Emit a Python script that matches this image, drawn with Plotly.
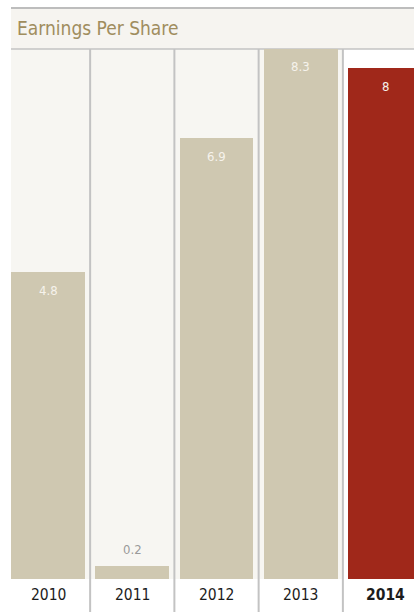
import plotly.graph_objects as go

# Earnings per share by fiscal year
years = ["2010", "2011", "2012", "2013", "2014"]
eps = [4.8, 0.2, 6.9, 8.3, 8.0]
eps_labels = ["4.8", "0.2", "6.9", "8.3", "8"]

W, H = 414, 612
FONT = "Liberation Sans Narrow, DejaVu Sans Condensed, Arial Narrow, sans-serif"

BAR = "#cfc8b1"
HIGHLIGHT = "#a0281a"
PANEL = "#f7f6f2"
RULE = "#c3c3c3"

# pixel geometry of the panel
plot_top, plot_bottom = 49, 579
col_w = 84.25
x0_px = 48  # centre of first column

def px(x):
    return x / W

def py(y):
    return 1 - y / H

xr0 = -x0_px / col_w
xr1 = xr0 + W / col_w

colors = [BAR] * (len(years) - 1) + [HIGHLIGHT]

fig = go.Figure()
fig.add_trace(go.Bar(
    x=list(range(len(years))),
    y=eps,
    width=0.878,
    marker=dict(color=colors, line=dict(width=0)),
    hoverinfo="skip",
))

shapes = [
    # shaded columns behind the earlier years
    dict(type="rect", xref="paper", yref="paper", x0=px(11), x1=px(343),
         y0=py(plot_bottom), y1=py(plot_top), fillcolor=PANEL, line_width=0, layer="below"),
    # title band
    dict(type="rect", xref="paper", yref="paper", x0=px(11), x1=1,
         y0=py(plot_top), y1=py(9), fillcolor="#f6f4f0", line_width=0, layer="below"),
    # top rule
    dict(type="line", xref="paper", yref="paper", x0=px(11), x1=1,
         y0=py(8), y1=py(8), line=dict(color="#bdbdbd", width=2), layer="below"),
    # rule under the title band
    dict(type="line", xref="paper", yref="paper", x0=px(11), x1=1,
         y0=py(plot_top), y1=py(plot_top), line=dict(color=RULE, width=1.5), layer="below"),
]
for i in range(len(years) - 1):
    shapes.append(dict(type="line", xref="x", yref="paper", x0=i + 0.5, x1=i + 0.5,
                       y0=0, y1=py(plot_top), line=dict(color=RULE, width=2), layer="below"))

annotations = [
    dict(text="Earnings Per Share", xref="paper", yref="paper", x=px(15), y=py(28),
         xanchor="left", yanchor="middle", showarrow=False,
         font=dict(family=FONT, size=19, color="#a08d5e")),
]
for i, (v, lab) in enumerate(zip(eps, eps_labels)):
    if v >= 1:
        annotations.append(dict(text=lab, x=i, y=v, xref="x", yref="y", showarrow=False,
                                yanchor="middle", yshift=-18,
                                font=dict(family=FONT, size=13, color="#f6f3ec")))
    else:
        annotations.append(dict(text=lab, x=i, y=v, xref="x", yref="y", showarrow=False,
                                yanchor="middle", yshift=17,
                                font=dict(family=FONT, size=13, color="#9a9a9a")))
    txt = f"<b>{years[i]}</b>" if i == len(years) - 1 else years[i]
    annotations.append(dict(text=txt, x=i, y=py(595), xref="x", yref="paper", showarrow=False,
                            yanchor="middle", font=dict(family=FONT, size=15.5, color="#1c1c1c")))

fig.update_layout(
    width=W, height=H,
    margin=dict(l=0, r=0, t=0, b=0),
    paper_bgcolor="white",
    plot_bgcolor="rgba(0,0,0,0)",
    showlegend=False,
    bargap=0,
    xaxis=dict(range=[xr0, xr1], showgrid=False, zeroline=False, showticklabels=False,
               showline=False, fixedrange=True),
    yaxis=dict(range=[0, 8.3], domain=[py(plot_bottom), py(plot_top)], showgrid=False,
               zeroline=False, showticklabels=False, showline=False, fixedrange=True),
    shapes=shapes,
    annotations=annotations,
)

fig.write_html("out.html", config={"displayModeBar": False})
